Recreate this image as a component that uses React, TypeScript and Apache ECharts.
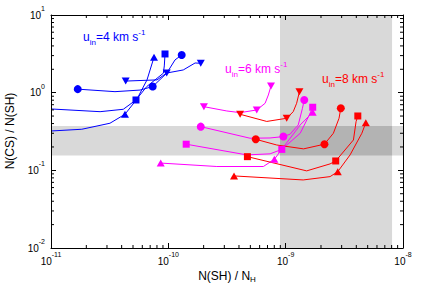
import React, { useEffect, useRef } from 'react';
import * as echarts from 'echarts';

const FONT = 'Liberation Sans, Arial, Helvetica, sans-serif';
const BLUE = '#0000ff';
const MAGENTA = '#ff00ff';
const RED = '#ff0000';

const xRange = [1e-11, 1e-8];
const yRange = [1e-2, 10];
const vBand = [8.95e-10, 8.07e-9];
const hBand = [0.155, 0.373];

// [N(SH)/NH, N(CS)/N(SH)]
const blueCircle = [[1.69e-11, 1.11], [3.51e-11, 1.03], [5.74e-11, 1.08], [7.36e-11, 1.2], [9.69e-11, 1.78], [1.14e-10, 2.64], [1.3e-10, 3.06]];
const blueCircleMarks = [0, 3, 6];
const blueSquare = [[1.0e-11, 0.617], [2.62e-11, 0.569], [4.13e-11, 0.611], [5.3e-11, 0.805], [6.55e-11, 1.2], [9.07e-11, 1.78], [9.24e-11, 2.21], [9.37e-11, 3.15]];
const blueSquareMarks = [3, 7];
const blueTriangle = [[1.0e-11, 0.321], [1.83e-11, 0.338], [3.18e-11, 0.404], [4.27e-11, 0.527], [5.41e-11, 0.83], [6.58e-11, 1.46], [7.55e-11, 2.86]];
const blueTriangleMarks = [3, 6];
const blueInvTri = [[4.33e-11, 1.41], [8.01e-11, 1.46], [9.69e-11, 1.79], [1.34e-10, 1.96], [1.69e-10, 2.41], [1.89e-10, 2.39]];
const blueInvTriMarks = [0, 2, 5];

const magentaInvTri = [[2.01e-10, 0.66], [3.15e-10, 0.581], [4.09e-10, 0.553], [5.67e-10, 0.599], [6.68e-10, 0.73], [7.12e-10, 0.934], [7.5e-10, 1.22]];
const magentaInvTriMarks = [0, 3, 6];
const magentaCircle = [[1.89e-10, 0.365], [4.97e-10, 0.259], [7.36e-10, 0.261], [9.56e-10, 0.272], [1.09e-9, 0.292], [1.28e-9, 0.384], [1.39e-9, 0.63], [1.44e-9, 0.805]];
const magentaCircleMarks = [0, 3, 7];
const magentaSquare = [[1.42e-10, 0.217], [4.66e-10, 0.158], [7.36e-10, 0.163], [9.27e-10, 0.186], [1.33e-9, 0.3], [1.59e-9, 0.516], [1.7e-9, 0.649]];
const magentaSquareMarks = [0, 3, 6];
const magentaTriangle = [[8.61e-11, 0.124], [2.59e-10, 0.112], [6.46e-10, 0.112], [8.01e-10, 0.139], [9.88e-10, 0.212], [1.33e-9, 0.384], [1.7e-9, 0.559]];
const magentaTriangleMarks = [0, 3, 6];

const redInvTri = [[4.09e-10, 0.527], [6.9e-10, 0.426], [1.02e-9, 0.468], [1.16e-9, 0.569], [1.24e-9, 0.73], [1.31e-9, 1.03]];
const redInvTriMarks = [0, 2, 5];
const redCircle = [[5.56e-10, 0.251], [8.39e-10, 0.212], [1.42e-9, 0.189], [2.14e-9, 0.217], [2.55e-9, 0.3], [2.85e-9, 0.468], [2.95e-9, 0.63]];
const redCircleMarks = [0, 3, 6];
const redSquare = [[4.72e-10, 0.15], [1.51e-9, 0.0984], [2.39e-9, 0.121], [2.67e-9, 0.132], [3.78e-9, 0.246], [3.98e-9, 0.423], [4.12e-9, 0.501]];
const redSquareMarks = [0, 3, 6];
const redTriangle = [[3.63e-10, 0.0847], [1.41e-9, 0.0752], [2.39e-9, 0.083], [2.78e-9, 0.0962], [3.54e-9, 0.158], [4.46e-9, 0.3], [4.82e-9, 0.411]];
const redTriangleMarks = [0, 3, 6];

const curves = [
  { data: blueCircle, marks: blueCircleMarks, color: BLUE, shape: 'circle' },
  { data: blueSquare, marks: blueSquareMarks, color: BLUE, shape: 'square' },
  { data: blueTriangle, marks: blueTriangleMarks, color: BLUE, shape: 'triangle' },
  { data: blueInvTri, marks: blueInvTriMarks, color: BLUE, shape: 'invtri' },
  { data: magentaInvTri, marks: magentaInvTriMarks, color: MAGENTA, shape: 'invtri' },
  { data: magentaCircle, marks: magentaCircleMarks, color: MAGENTA, shape: 'circle' },
  { data: magentaSquare, marks: magentaSquareMarks, color: MAGENTA, shape: 'square' },
  { data: magentaTriangle, marks: magentaTriangleMarks, color: MAGENTA, shape: 'triangle' },
  { data: redInvTri, marks: redInvTriMarks, color: RED, shape: 'invtri' },
  { data: redCircle, marks: redCircleMarks, color: RED, shape: 'circle' },
  { data: redSquare, marks: redSquareMarks, color: RED, shape: 'square' },
  { data: redTriangle, marks: redTriangleMarks, color: RED, shape: 'triangle' },
];

const xDecades = [-11, -10, -9];
const yDecades = [-2, -1, 0];
const minorMultiples = [2, 3, 4, 5, 6, 7, 8, 9];

const labels = [
  { text: 'u{sub|in}=4 km s{sup|-1}', color: BLUE, x: 83, y: 37 },
  { text: 'u{sub|in}=6 km s{sup|-1}', color: MAGENTA, x: 225, y: 69 },
  { text: 'u{sub|in}=8 km s{sup|-1}', color: RED, x: 322, y: 79 },
];

function symbolOf(shape: string) {
  if (shape === 'circle') return { symbol: 'circle', symbolSize: 8, symbolRotate: 0 };
  if (shape === 'square') return { symbol: 'rect', symbolSize: 7, symbolRotate: 0 };
  if (shape === 'triangle') return { symbol: 'triangle', symbolSize: [8, 7], symbolRotate: 0 };
  return { symbol: 'triangle', symbolSize: [8, 7], symbolRotate: 180 };
}

const powLabel = (v: number) => {
  const e = Math.round(Math.log10(v));
  return '10{sup|' + e + '}';
};

export default function App() {
  const ref = useRef<HTMLDivElement>(null);
  useEffect(() => {
    if (!ref.current) return;
    const chart = echarts.init(ref.current, undefined, { renderer: 'svg' });

    const axisCommon = {
      type: 'log',
      logBase: 10,
      z: 5,
      axisLine: { show: true, lineStyle: { color: '#000', width: 1 } },
      axisTick: { show: true, inside: true, length: 5, lineStyle: { color: '#000', width: 1 } },
      splitLine: { show: false },
    };
    const labelStyle = {
      fontFamily: FONT,
      fontSize: 10,
      lineHeight: 20,
      color: '#000',
      rich: { sup: { fontFamily: FONT, fontSize: 7, lineHeight: 7, verticalAlign: 'top', color: '#000' } },
    };

    const xMinor: number[][] = [];
    xDecades.forEach((d) => minorMultiples.forEach((m) => xMinor.push([m * Math.pow(10, d), 1])));
    const yMinor: number[][] = [];
    yDecades.forEach((d) => minorMultiples.forEach((m) => yMinor.push([1e-10, m * Math.pow(10, d)])));

    const bandRects = [
      [vBand[0], yRange[0], vBand[1], yRange[1]],
      [xRange[0], hBand[0], xRange[1], hBand[1]],
      [vBand[0], hBand[0], vBand[1], hBand[1]],
    ];
    const bandColors = ['#d9d9d9', '#d9d9d9', '#b3b3b3'];

    const lineSeries = curves.map((c) => {
      const s = symbolOf(c.shape);
      return {
        type: 'line',
        z: 3,
        silent: true,
        data: c.data.map((p, i) =>
          c.marks.includes(i)
            ? { value: p, symbol: s.symbol, symbolSize: s.symbolSize, symbolRotate: s.symbolRotate }
            : { value: p, symbol: 'none' }
        ),
        showSymbol: true,
        lineStyle: { color: c.color, width: 1 },
        itemStyle: { color: c.color, borderWidth: 0 },
        emphasis: { disabled: true },
      };
    });

    chart.setOption({
      animation: false,
      grid: { left: 51, top: 15, right: 22, bottom: 50, containLabel: false },
      xAxis: [
        { ...axisCommon, position: 'bottom', min: xRange[0], max: xRange[1], axisLabel: { ...labelStyle, margin: 3, formatter: powLabel } },
        { ...axisCommon, position: 'top', min: xRange[0], max: xRange[1], axisLabel: { show: false } },
      ],
      yAxis: [
        { ...axisCommon, position: 'left', min: yRange[0], max: yRange[1], axisLabel: { ...labelStyle, margin: 6, formatter: powLabel } },
        { ...axisCommon, position: 'right', min: yRange[0], max: yRange[1], axisLabel: { show: false } },
      ],
      series: [
        {
          type: 'custom',
          z: 1,
          silent: true,
          xAxisIndex: 0,
          yAxisIndex: 0,
          data: bandRects,
          renderItem: (params: any, api: any) => {
            const p0 = api.coord([api.value(0), api.value(1)]);
            const p1 = api.coord([api.value(2), api.value(3)]);
            return {
              type: 'rect',
              shape: {
                x: Math.min(p0[0], p1[0]),
                y: Math.min(p0[1], p1[1]),
                width: Math.abs(p1[0] - p0[0]),
                height: Math.abs(p1[1] - p0[1]),
              },
              style: { fill: bandColors[params.dataIndex] },
            };
          },
        },
        ...lineSeries,
        {
          type: 'custom',
          z: 6,
          silent: true,
          xAxisIndex: 0,
          yAxisIndex: 0,
          data: xMinor,
          renderItem: (params: any, api: any) => {
            const cs = params.coordSys;
            const p = api.coord([api.value(0), api.value(1)]);
            return {
              type: 'group',
              children: [
                { type: 'line', shape: { x1: p[0], y1: cs.y + cs.height, x2: p[0], y2: cs.y + cs.height - 3 }, style: { stroke: '#000', lineWidth: 1 } },
                { type: 'line', shape: { x1: p[0], y1: cs.y, x2: p[0], y2: cs.y + 3 }, style: { stroke: '#000', lineWidth: 1 } },
              ],
            };
          },
        },
        {
          type: 'custom',
          z: 6,
          silent: true,
          xAxisIndex: 0,
          yAxisIndex: 0,
          data: yMinor,
          renderItem: (params: any, api: any) => {
            const cs = params.coordSys;
            const p = api.coord([api.value(0), api.value(1)]);
            return {
              type: 'group',
              children: [
                { type: 'line', shape: { x1: cs.x, y1: p[1], x2: cs.x + 3, y2: p[1] }, style: { stroke: '#000', lineWidth: 1 } },
                { type: 'line', shape: { x1: cs.x + cs.width, y1: p[1], x2: cs.x + cs.width - 3, y2: p[1] }, style: { stroke: '#000', lineWidth: 1 } },
              ],
            };
          },
        },
      ],
      graphic: [
        ...labels.map((l) => ({
          type: 'text',
          x: l.x,
          y: l.y,
          z: 10,
          silent: true,
          style: {
            text: l.text,
            fill: l.color,
            fontFamily: FONT,
            fontSize: 12,
            lineHeight: 18,
            align: 'left',
            verticalAlign: 'middle',
            rich: {
              sub: { fontFamily: FONT, fontSize: 8, lineHeight: 12, verticalAlign: 'bottom', fill: l.color },
              sup: { fontFamily: FONT, fontSize: 8, lineHeight: 8, verticalAlign: 'top', fill: l.color },
            },
          },
        })),
        {
          type: 'text',
          x: 227,
          y: 276,
          silent: true,
          style: {
            text: 'N(SH) / N{sub|H}',
            fill: '#000',
            fontFamily: FONT,
            fontSize: 12,
            lineHeight: 14,
            align: 'center',
            verticalAlign: 'middle',
            rich: { sub: { fontFamily: FONT, fontSize: 8, lineHeight: 8, verticalAlign: 'bottom', fill: '#000' } },
          },
        },
        {
          type: 'text',
          x: 10,
          y: 131,
          rotation: Math.PI / 2,
          silent: true,
          style: {
            text: 'N(CS) / N(SH)',
            fill: '#000',
            fontFamily: FONT,
            fontSize: 12,
            align: 'center',
            verticalAlign: 'middle',
          },
        },
      ],
    });
    return () => chart.dispose();
  }, []);
  return <div ref={ref} style={{ position: 'absolute', left: 0, top: 0, width: 425, height: 298 }} />;
}
